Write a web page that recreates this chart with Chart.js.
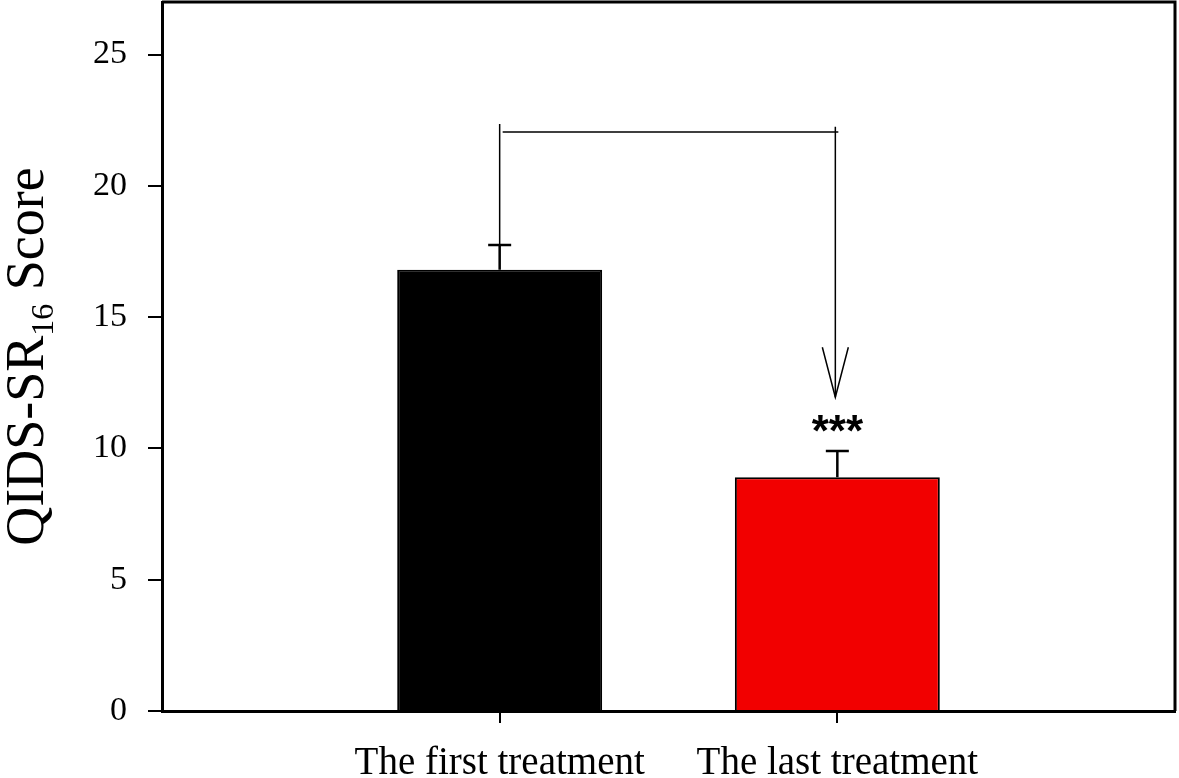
<!DOCTYPE html>
<html><head><meta charset="utf-8">
<script src="https://cdn.jsdelivr.net/npm/chart.js@4/dist/chart.umd.min.js"></script>
<style>html,body{margin:0;padding:0;background:#fff;}#wrap{width:1179px;height:778px;}</style>
</head><body><div id="wrap"><canvas id="c" width="1179" height="778"></canvas></div>
<script>
// ---- data ----
const categories = ['The first treatment', 'The last treatment'];
const xPositions = [1, 2];
const means = [16.8, 8.9];
const errors = [0.95, 1.0];
const yTicks = [0, 5, 10, 15, 20, 25];
const bracketLeftTop = 22.35;
const bracketLine = 22.05;
const bracketRightTop = 22.25;
const arrowTip = 11.95;
const arrowHeadBase = 13.85;
const sigLabel = '***';
const sigY = 10.95;
const yTitleMain = 'QIDS-SR';
const yTitleSub = '16';
const yTitleEnd = ' Score';

const barColors = ['#000000', '#f20000'];

const annotate = {
  id: 'annotate',
  afterDatasetsDraw(chart) {
    const {ctx, scales: {x, y}} = chart;
    ctx.save();
    ctx.strokeStyle = '#000';
    // error bars
    ctx.lineWidth = 2.5;
    xPositions.forEach((xv, i) => {
      const px = x.getPixelForValue(xv);
      const y0 = y.getPixelForValue(means[i]);
      const y1 = y.getPixelForValue(means[i] + errors[i]);
      ctx.beginPath();
      ctx.moveTo(px, y0); ctx.lineTo(px, y1);
      ctx.moveTo(px - 11.5, y1); ctx.lineTo(px + 11.5, y1);
      ctx.stroke();
    });
    // bracket
    ctx.lineWidth = 1.5;
    const xl = x.getPixelForValue(xPositions[0]);
    const xr = x.getPixelForValue(xPositions[1]) - 2;
    ctx.beginPath();
    ctx.moveTo(xl, y.getPixelForValue(means[0] + errors[0]));
    ctx.lineTo(xl, y.getPixelForValue(bracketLeftTop));
    ctx.moveTo(xl + 3, y.getPixelForValue(bracketLine));
    ctx.lineTo(xr + 3, y.getPixelForValue(bracketLine));
    ctx.moveTo(xr, y.getPixelForValue(bracketRightTop));
    ctx.lineTo(xr, y.getPixelForValue(arrowTip));
    ctx.stroke();
    // arrow head (open V)
    const tipY = y.getPixelForValue(arrowTip);
    const baseY = y.getPixelForValue(arrowHeadBase);
    ctx.beginPath();
    ctx.moveTo(xr - 13, baseY); ctx.lineTo(xr, tipY); ctx.lineTo(xr + 13, baseY);
    ctx.stroke();
    // significance stars
    ctx.fillStyle = '#000';
    ctx.font = 'bold 44px "Liberation Sans"';
    ctx.textAlign = 'center';
    ctx.textBaseline = 'alphabetic';
    const m = ctx.measureText(sigLabel);
    const cy = y.getPixelForValue(sigY);
    const base = cy + (m.actualBoundingBoxAscent - m.actualBoundingBoxDescent) / 2;
    ctx.fillText(sigLabel, x.getPixelForValue(xPositions[1]), base);
    ctx.restore();
  },
  afterDraw(chart) {
    const {ctx, chartArea: a} = chart;
    ctx.save();
    // frame top/right
    ctx.strokeStyle = '#000';
    ctx.lineWidth = 3;
    ctx.beginPath();
    ctx.moveTo(a.left, a.top); ctx.lineTo(a.right, a.top); ctx.lineTo(a.right, a.bottom);
    ctx.stroke();
    // y title with subscript
    const mainF = '54px "Liberation Serif"';
    const subF = '32px "Liberation Serif"';
    ctx.fillStyle = '#000';
    ctx.font = mainF;
    const w1 = ctx.measureText(yTitleMain).width;
    const w3 = ctx.measureText(yTitleEnd).width;
    ctx.font = subF;
    const w2 = ctx.measureText(yTitleSub).width;
    const total = w1 + w2 + w3;
    const cy = (a.top + a.bottom) / 2;
    ctx.translate(43, cy);
    ctx.rotate(-Math.PI / 2);
    ctx.textBaseline = 'alphabetic';
    ctx.textAlign = 'left';
    let sx = -total / 2;
    ctx.font = mainF; ctx.fillText(yTitleMain, sx, 0); sx += w1;
    ctx.font = subF; ctx.fillText(yTitleSub, sx, 10); sx += w2;
    ctx.font = mainF; ctx.fillText(yTitleEnd, sx, 0);
    ctx.restore();
  }
};

new Chart(document.getElementById('c'), {
  type: 'bar',
  data: {
    datasets: [{
      data: xPositions.map((xv, i) => ({x: xv, y: means[i]})),
      backgroundColor: barColors,
      borderColor: '#000',
      borderWidth: 2,
      barPercentage: 0.607,
      categoryPercentage: 1
    }]
  },
  options: {
    responsive: false,
    animation: false,
    layout: {padding: {top: 2, right: 4, left: 0, bottom: 0}},
    plugins: {legend: {display: false}, tooltip: {enabled: false}},
    scales: {
      x: {
        type: 'linear', min: 0, max: 3, offset: false,
        afterBuildTicks: s => { s.ticks = xPositions.map(v => ({value: v})); },
        afterFit: s => { s.height = 67; s.paddingLeft = 0; s.paddingRight = 0; },
        ticks: {
          callback: v => { const i = xPositions.indexOf(v); return i >= 0 ? categories[i] : ''; },
          font: {family: 'Liberation Serif', size: 39},
          color: '#000', padding: 17, maxRotation: 0, autoSkip: false
        },
        grid: {offset: false, drawOnChartArea: false, tickLength: 12, color: '#000', lineWidth: 2},
        border: {color: '#000', width: 3}
      },
      y: {
        min: 0, max: 27,
        afterBuildTicks: s => { s.ticks = yTicks.map(v => ({value: v})); },
        afterFit: s => { s.width = 162; s.paddingTop = 0; s.paddingBottom = 0; },
        ticks: {font: {family: 'Liberation Serif', size: 34}, color: '#000', padding: 21},
        grid: {drawOnChartArea: false, tickLength: 14, color: '#000', lineWidth: 2},
        border: {color: '#000', width: 3}
      }
    }
  },
  plugins: [annotate]
});
</script></body></html>
